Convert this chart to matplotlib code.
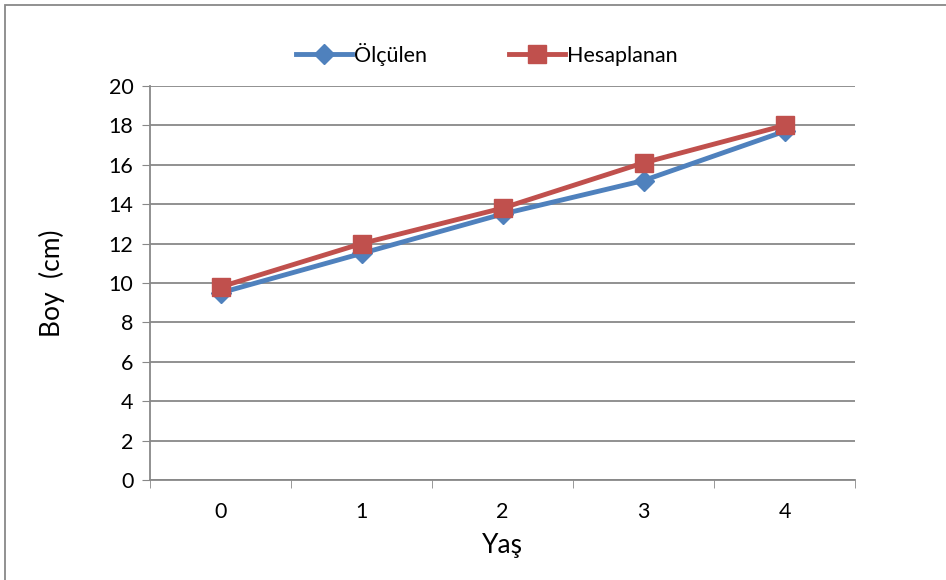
import matplotlib.pyplot as plt
from matplotlib.patches import Rectangle

# Data
yas = [0, 1, 2, 3, 4]
olculen = [9.5, 11.5, 13.5, 15.2, 17.7]
hesaplanan = [9.8, 12.0, 13.8, 16.1, 18.0]

plt.rcParams['font.family'] = ['Lato', 'DejaVu Sans']

fig = plt.figure(figsize=(9.46, 5.8), dpi=100)
ax = fig.add_axes([150 / 946, 100 / 580, 705 / 946, 394 / 580])

ax.plot(yas, olculen, color='#4F81BD', lw=3.5, marker='D', ms=10, label='Ölçülen', zorder=3)
ax.plot(yas, hesaplanan, color='#C0504D', lw=3.5, marker='s', ms=13, label='Hesaplanan', zorder=4)

ax.set_xlim(-0.5, 4.5)
ax.set_ylim(0, 20)
ax.set_yticks(range(0, 21, 2))
ax.set_xticks(yas)
ax.set_xticks([i - 0.5 for i in range(6)], minor=True)
ax.tick_params(axis='x', which='major', length=0, pad=16, labelsize=15.5)
ax.tick_params(axis='x', which='minor', length=6, color='#888888', direction='out')
ax.tick_params(axis='y', length=6, color='#888888', direction='out', labelsize=15.5, pad=6)

ax.grid(axis='y', color='#888888', lw=1.3)
ax.set_axisbelow(True)
for s in ['top', 'right']:
    ax.spines[s].set_visible(False)
for s in ['left', 'bottom']:
    ax.spines[s].set_color('#888888')
    ax.spines[s].set_linewidth(1.3)

ax.set_xlabel('Yaş', fontsize=19, labelpad=8)
ax.set_ylabel('Boy  (cm)', fontsize=19, labelpad=31)

fig.legend(loc='upper center', bbox_to_anchor=(0.515, 0.96), ncol=2, frameon=False,
           fontsize=15.5, handlelength=2.6, columnspacing=3.8, handletextpad=0.1)

# outer chart border
fig.patches.append(Rectangle((5 / 946, -0.1), 2, 1.1 - 5 / 580, transform=fig.transFigure,
                             fill=False, edgecolor='#888888', lw=1.3))

fig.savefig('out.png', dpi=100)
